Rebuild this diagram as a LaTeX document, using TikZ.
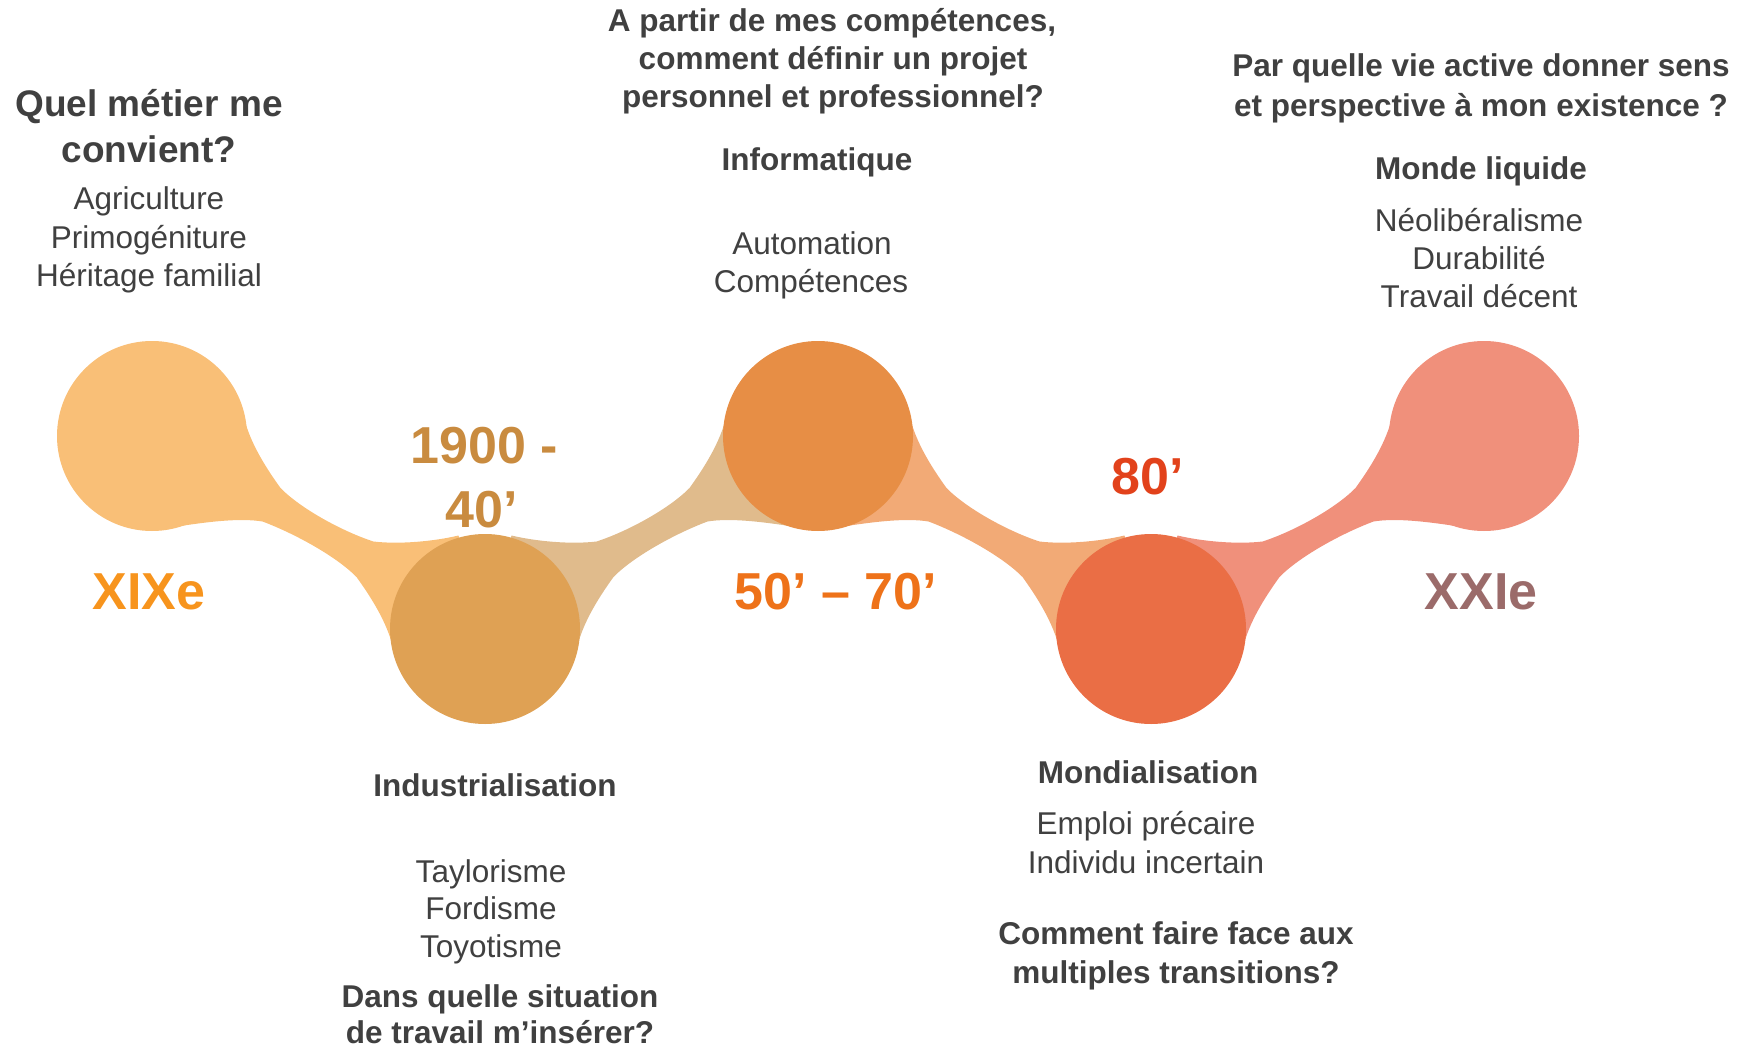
\documentclass[tikz,border=0pt]{standalone}
\usepackage{fontspec}
\setmainfont{Liberation Sans}
\usetikzlibrary{calc}
\definecolor{tgray}{HTML}{404040}
\definecolor{cA}{HTML}{F9BF77}
\definecolor{cB}{HTML}{DFA154}
\definecolor{cBC}{HTML}{E0BB8C}
\definecolor{cC}{HTML}{E78E45}
\definecolor{cCD}{HTML}{F2AA76}
\definecolor{cD}{HTML}{EA6E45}
\definecolor{cE}{HTML}{F0907B}
\definecolor{eA}{HTML}{F7941D}
\definecolor{eB}{HTML}{C98B3F}
\definecolor{eC}{HTML}{EE7219}
\definecolor{eD}{HTML}{E2421B}
\definecolor{eE}{HTML}{9B6B6A}
\newcommand\bridgeshape{(-75,-117) .. controls (-69,-90) and (-52,-64) .. (-38,-44.5) .. controls (-18,-24) and (24,-1) .. (55,9) .. controls (80,12) and (115,9) .. (140,3) -- (166.5,96.5) -- (75,117) .. controls (69,90) and (52,64) .. (38,44.5) .. controls (18,24) and (-24,1) .. (-56,-11) .. controls (-80,-15) and (-115,-10) .. (-141,-6) -- (-166.5,-96.5) -- cycle}
\begin{document}
\begin{tikzpicture}[x=1pt,y=-1pt,
  txt/.style={anchor=base, inner sep=0pt, text=tgray, font=\fontsize{31.5}{38}\selectfont},
  btxt/.style={txt, font=\fontsize{31.5}{38}\selectfont\bfseries},
  ttl/.style={txt, font=\fontsize{37}{46}\selectfont\bfseries},
  era/.style={anchor=base, inner sep=0pt, font=\fontsize{52}{60}\selectfont\bfseries},
  bubble/.style={circle, minimum size=190pt, inner sep=0pt, draw=none}
]
\useasboundingbox (0,0) rectangle (1744,1048);
% centres
\coordinate (p1) at (152,436);
\coordinate (p2) at (485,629);
\coordinate (p3) at (818,436);
\coordinate (p4) at (1151,629);
\coordinate (p5) at (1484,436);
% bridges
\begin{scope}[shift={($(p1)!0.5!(p2)$)}]
  \fill[cA] \bridgeshape;
\end{scope}
\begin{scope}[shift={($(p2)!0.5!(p3)$)}, xscale=-1]
  \fill[cBC] \bridgeshape;
\end{scope}
\begin{scope}[shift={($(p3)!0.5!(p4)$)}]
  \fill[cCD] \bridgeshape;
\end{scope}
\begin{scope}[shift={($(p4)!0.5!(p5)$)}, xscale=-1]
  \fill[cE] \bridgeshape;
\end{scope}
% bubbles
\node[bubble, fill=cA] (c1) at (p1) {};
\node[bubble, fill=cB] (c2) at (p2) {};
\node[bubble, fill=cC] (c3) at (p3) {};
\node[bubble, fill=cD] (c4) at (p4) {};
\node[bubble, fill=cE] (c5) at (p5) {};
% era labels
\node[era, text=eA] (e1) at (149,609) {XIXe};
\node[era, text=eB] (e2a) at (484,463) {1900 -};
\node[era, text=eB] (e2b) at (482,527) {40’};
\node[era, text=eC] (e3) at (836,609) {50’ – 70’};
\node[era, text=eD] (e4) at (1148,494) {80’};
\node[era, text=eE] (e5) at (1481,609) {XXIe};
% left column
\node[ttl] (q1a) at (149,117) {Quel métier me};
\node[ttl] (q1b) at (149,163) {convient?};
\node[txt] (l1a) at (149,210) {Agriculture};
\node[txt] (l1b) at (149,249) {Primogéniture};
\node[txt] (l1c) at (149,287) {Héritage familial};
% top middle
\node[btxt] (q3a) at (832,32) {A partir de mes compétences,};
\node[btxt] (q3b) at (833,70) {comment définir un projet};
\node[btxt] (q3c) at (833,108) {personnel et professionnel?};
\node[btxt] (h3) at (817,171) {Informatique};
\node[txt] (l3a) at (812,255) {Automation};
\node[txt] (l3b) at (811,293) {Compétences};
% top right
\node[btxt] (q5a) at (1481,77) {Par quelle vie active donner sens};
\node[btxt] (q5b) at (1481,117) {et perspective à mon existence ?};
\node[btxt] (h5) at (1481,180) {Monde liquide};
\node[txt] (l5a) at (1479,232) {Néolibéralisme};
\node[txt] (l5b) at (1479,270) {Durabilité};
\node[txt] (l5c) at (1479,308) {Travail décent};
% bottom left
\node[btxt] (h2) at (495,796) {Industrialisation};
\node[txt] (l2a) at (491,882) {Taylorisme};
\node[txt] (l2b) at (491,919) {Fordisme};
\node[txt] (l2c) at (491,957) {Toyotisme};
\node[btxt] (q2a) at (500,1007) {Dans quelle situation};
\node[btxt] (q2b) at (500,1043) {de travail m’insérer?};
% bottom right
\node[btxt] (h4) at (1148,783) {Mondialisation};
\node[txt] (l4a) at (1146,834) {Emploi précaire};
\node[txt] (l4b) at (1146,873) {Individu incertain};
\node[btxt] (q4a) at (1176,944) {Comment faire face aux};
\node[btxt] (q4b) at (1176,983) {multiples transitions?};
\end{tikzpicture}
\end{document}
